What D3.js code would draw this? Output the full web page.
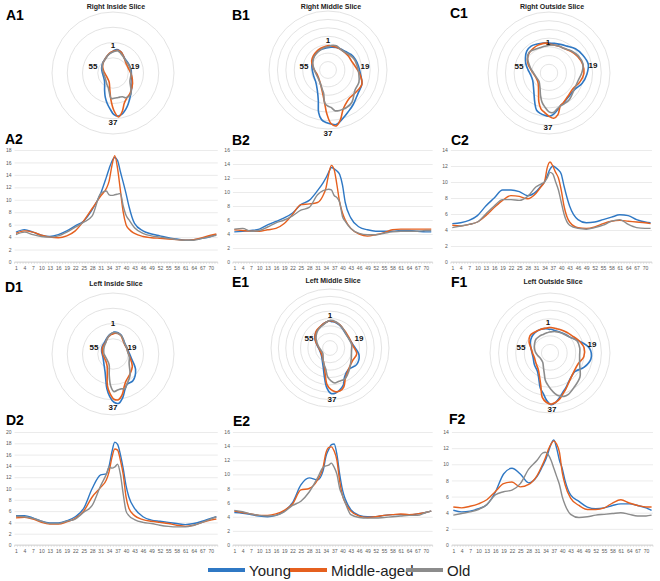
<!DOCTYPE html>
<html>
<head>
<meta charset="utf-8">
<script src="https://cdn.jsdelivr.net/npm/d3@7"></script>
<style>
  body { margin: 0; background: #fff; }
  svg { display: block; font-family: "Liberation Sans", Arial, sans-serif; }
</style>
</head>
<body>
<div id="figure"></div>
<script>
/*
 * Slice profiles: radar view (x1) and profile view (x2) for three age groups
 */

// Sample positions along the slice (1..72, one every 5 degrees)
const sampleIdx = [1, 4, 7, 10, 13, 16, 19, 22, 25, 28, 31, 33, 34, 35, 36, 37, 38, 39, 40, 41, 43, 46, 49, 52, 55, 58, 61, 64, 67, 70, 72];
const xTickLabels = [1, 4, 7, 10, 13, 16, 19, 22, 25, 28, 31, 34, 37, 40, 43, 46, 49, 52, 55, 58, 61, 64, 67, 70];
const radarLabels = [1, 19, 37, 55];
const groups = ["Young", "Middle-aged", "Old"];

// Right inside slice
const youngA  = [4.8, 5.2, 4.8, 4.3, 4.1, 4.4, 5.0, 5.8, 6.6, 8.4, 11.0, 13.6, 15.0, 16.2, 16.8, 16.3, 14.5, 12.8, 11.0, 9.0, 6.2, 5.0, 4.5, 4.2, 3.9, 3.7, 3.5, 3.6, 3.8, 4.1, 4.4];
const middleA = [4.6, 5.0, 4.8, 4.3, 4.0, 3.9, 4.2, 5.0, 6.6, 8.6, 10.6, 11.8, 13.0, 15.5, 17.1, 15.0, 11.5, 8.0, 6.0, 5.3, 4.6, 4.1, 3.9, 3.8, 3.7, 3.6, 3.5, 3.6, 3.9, 4.3, 4.5];
const oldA    = [4.4, 4.8, 4.4, 4.1, 4.0, 4.2, 4.8, 5.6, 6.4, 7.4, 11.0, 11.4, 10.8, 10.7, 10.8, 10.9, 11.0, 9.0, 7.5, 6.8, 5.5, 4.6, 4.2, 4.0, 3.8, 3.6, 3.5, 3.5, 3.8, 4.1, 4.3];
// Right middle slice
const youngB  = [4.3, 4.4, 4.5, 4.7, 5.3, 5.8, 6.3, 7.0, 8.2, 8.8, 10.2, 11.3, 12.0, 12.8, 13.5, 13.3, 13.0, 12.5, 11.0, 8.5, 6.3, 5.0, 4.6, 4.4, 4.4, 4.4, 4.5, 4.5, 4.4, 4.3, 4.3];
const middleB = [4.6, 4.5, 4.4, 4.4, 4.6, 4.8, 5.5, 6.8, 8.2, 8.3, 8.5, 9.5, 10.5, 12.5, 13.8, 13.2, 11.0, 8.5, 7.0, 6.0, 4.8, 4.0, 3.7, 3.9, 4.2, 4.6, 4.7, 4.7, 4.7, 4.7, 4.7];
const oldB    = [4.7, 4.8, 4.4, 4.5, 5.0, 5.6, 6.0, 6.6, 7.4, 7.8, 9.6, 10.2, 10.3, 10.4, 10.3, 9.5, 9.2, 8.5, 6.5, 5.8, 4.8, 4.1, 3.9, 3.9, 4.1, 4.3, 4.4, 4.4, 4.4, 4.5, 4.5];
// Right outside slice
const youngC  = [4.8, 4.9, 5.2, 5.8, 7.0, 8.0, 9.0, 9.0, 8.8, 8.3, 8.8, 9.6, 10.0, 10.8, 11.6, 12.0, 11.8, 11.5, 11.0, 9.5, 7.0, 5.3, 4.9, 5.0, 5.3, 5.6, 5.9, 5.8, 5.3, 5.0, 4.9];
const middleC = [4.6, 4.5, 4.7, 5.0, 5.8, 6.8, 7.7, 8.3, 8.2, 7.9, 8.6, 9.5, 10.0, 11.8, 12.5, 12.0, 11.2, 10.5, 9.0, 7.0, 5.0, 4.3, 4.2, 4.4, 4.8, 5.1, 5.2, 5.1, 5.0, 4.9, 4.8];
const oldC    = [4.3, 4.5, 4.7, 5.0, 6.0, 7.0, 7.8, 7.8, 7.7, 8.2, 9.4, 9.8, 10.0, 10.5, 11.2, 11.0, 10.0, 9.0, 7.5, 6.0, 4.6, 4.2, 4.1, 4.3, 4.6, 5.1, 5.3, 4.7, 4.3, 4.2, 4.2];
// Left inside slice
const youngD  = [5.2, 5.2, 4.8, 4.2, 3.9, 3.9, 4.3, 5.0, 6.5, 10.0, 12.4, 12.6, 14.0, 16.5, 18.2, 17.8, 16.0, 13.5, 10.5, 8.5, 6.5, 5.0, 4.4, 4.2, 4.0, 3.8, 3.6, 3.8, 4.2, 4.7, 5.0];
const middleD = [4.8, 4.9, 4.6, 4.0, 3.7, 3.7, 4.1, 4.7, 6.0, 8.5, 10.2, 11.5, 13.0, 15.5, 17.0, 16.8, 15.0, 12.5, 8.5, 6.5, 5.2, 4.5, 4.2, 4.0, 3.8, 3.5, 3.3, 3.5, 4.0, 4.4, 4.6];
const oldD    = [5.1, 5.0, 4.7, 4.2, 3.8, 3.8, 4.2, 4.6, 5.8, 7.0, 10.5, 12.5, 13.8, 13.6, 13.8, 14.3, 12.5, 9.0, 6.0, 5.2, 4.5, 4.0, 3.8, 3.5, 3.3, 3.2, 3.2, 3.5, 4.0, 4.6, 5.0];
// Left middle slice
const youngE  = [4.6, 4.5, 4.3, 4.1, 4.0, 4.2, 4.8, 6.0, 8.5, 9.5, 9.2, 10.5, 12.5, 13.5, 14.2, 14.3, 12.8, 10.0, 7.8, 6.5, 5.0, 4.2, 4.0, 4.0, 4.2, 4.3, 4.3, 4.2, 4.4, 4.6, 4.8];
const middleE = [4.8, 4.6, 4.4, 4.2, 4.2, 4.4, 4.9, 5.8, 7.8, 8.0, 9.2, 11.0, 13.0, 13.8, 13.9, 13.3, 12.0, 9.0, 7.0, 6.0, 4.8, 4.1, 3.9, 4.0, 4.2, 4.3, 4.4, 4.3, 4.4, 4.6, 4.8];
const oldE    = [4.9, 4.7, 4.4, 4.2, 4.1, 4.2, 4.7, 5.6, 6.2, 7.5, 9.5, 11.0, 11.2, 11.3, 11.6, 11.0, 10.0, 8.0, 7.0, 6.0, 4.3, 3.9, 3.8, 3.8, 3.9, 4.0, 4.1, 4.2, 4.2, 4.6, 4.8];
// Left outside slice
const youngF  = [4.3, 4.1, 4.2, 4.5, 5.0, 6.5, 8.8, 9.5, 8.8, 7.7, 8.5, 9.8, 10.5, 11.5, 12.5, 13.0, 12.0, 10.5, 9.5, 8.0, 6.2, 5.4, 4.7, 4.5, 4.6, 4.9, 5.1, 5.1, 4.9, 4.6, 4.3];
const middleF = [4.7, 4.6, 4.8, 5.1, 5.6, 6.6, 7.6, 7.8, 7.2, 7.5, 8.6, 10.0, 10.8, 11.8, 12.5, 12.9, 12.5, 11.5, 9.0, 7.5, 5.8, 4.9, 4.4, 4.4, 4.6, 5.2, 5.6, 5.2, 4.9, 4.7, 4.7];
const oldF    = [3.7, 3.9, 4.1, 4.4, 5.0, 6.2, 6.6, 6.8, 7.6, 9.4, 10.5, 11.4, 11.5, 11.2, 10.5, 9.5, 8.5, 7.5, 6.0, 5.0, 3.8, 3.4, 3.5, 3.7, 3.8, 3.9, 4.0, 3.8, 3.6, 3.6, 3.7];

// Colors
const groupColor = d3.scaleOrdinal()
    .domain(groups)
    .range(["#2f78c4", "#e5601f", "#8c8c8c"]);

// Layout of the six panels (ring = centre of the background circles)
const panels = [
    { key: "A", title: "Right Inside Slice", series: [youngA, middleA, oldA],
      polar: { cx: 114, cy: 65, ringX: 113, ringY: 73, ringR: 61, max: 20, step: 5, titleY: 9, tag: [6, 20] },
      tags: { 1: [-1, -20], 19: [21, 1], 37: [-1, 57], 55: [-21, 1] },
      line: { x1: 16, x70: 210.7, top: 150, bottom: 262, max: 18, tag: [5, 144] } },
    { key: "B", title: "Right Middle Slice", series: [youngB, middleB, oldB],
      polar: { cx: 331, cy: 66, ringX: 328, ringY: 70, ringR: 59, max: 14, step: 2, titleY: 9, tag: [232, 20] },
      tags: { 1: [-3, -26], 19: [34, 0], 37: [-3, 67], 55: [-27, 0] },
      line: { x1: 234.3, x70: 425.7, top: 150, bottom: 262, max: 16, tag: [232, 145] } },
    { key: "C", title: "Right Outside Slice", series: [youngC, middleC, oldC],
      polar: { cx: 549, cy: 64, ringX: 549, ringY: 73, ringR: 61, max: 14, step: 2, titleY: 9, tag: [450, 18] },
      tags: { 1: [-1, -22], 19: [44, 1], 37: [-1, 63], 55: [-30, 2] },
      line: { x1: 452.3, x70: 645, top: 150, bottom: 262, max: 14, tag: [451, 145] } },
    { key: "D", title: "Left Inside Slice", series: [youngD, middleD, oldD],
      polar: { cx: 114, cy: 348, ringX: 113, ringY: 354, ringR: 61, max: 20, step: 5, titleY: 286, tag: [5, 292] },
      tags: { 1: [-1, -25], 19: [18, -1], 37: [-1, 59], 55: [-20, -1] },
      line: { x1: 16, x70: 210.7, top: 432, bottom: 545, max: 20, tag: [6, 425] } },
    { key: "E", title: "Left Middle Slice", series: [youngE, middleE, oldE],
      polar: { cx: 331, cy: 339, ringX: 330, ringY: 348, ringR: 59, max: 16, step: 2, titleY: 283, tag: [232, 287] },
      tags: { 1: [-1, -24], 19: [28, -1], 37: [1, 60], 55: [-22, -1] },
      line: { x1: 234.3, x70: 425.7, top: 432, bottom: 545, max: 16, tag: [233, 426] } },
    { key: "F", title: "Left Outside Slice", series: [youngF, middleF, oldF],
      polar: { cx: 551, cy: 348, ringX: 550, ringY: 353, ringR: 60, max: 14, step: 2, titleY: 284, tag: [451, 287] },
      tags: { 1: [-3, -26], 19: [41, -4], 37: [1, 61], 55: [-30, -1] },
      line: { x1: 453.3, x70: 646, top: 432, bottom: 545, max: 14, tag: [449, 424] } }
];

var width = 660, height = 581;
var polarRadius = 61;

var svg = d3.select("#figure").append("svg")
    .attr("width", width)
    .attr("height", height);

function toPoints(values) {
    return sampleIdx.map(function (idx, i) { return [idx, values[i]]; });
}

function drawPolar(p) {
    var cfg = p.polar;
    var g = svg.append("g").attr("class", "polar");

    var r = d3.scaleLinear().domain([0, cfg.max]).range([0, polarRadius]);
    var ringScale = d3.scaleLinear().domain([0, cfg.max]).range([0, cfg.ringR]);

    // Background rings
    g.selectAll("circle.ring")
        .data(d3.range(cfg.step, cfg.max + cfg.step / 2, cfg.step))
        .enter().append("circle")
        .attr("class", "ring")
        .attr("cx", cfg.ringX)
        .attr("cy", cfg.ringY)
        .attr("r", function (d) { return ringScale(d); })
        .style("fill", "none")
        .style("stroke", "#dcdcdc")
        .style("stroke-width", 0.8);

    var radial = d3.lineRadial()
        .angle(function (d) { return (d[0] - 1) / 72 * 2 * Math.PI; })
        .radius(function (d) { return r(d[1]); })
        .curve(d3.curveCatmullRomClosed.alpha(0.5));

    g.append("g")
        .attr("transform", "translate(" + cfg.cx + "," + cfg.cy + ")")
        .selectAll("path")
        .data(p.series)
        .enter().append("path")
        .attr("d", function (d) { return radial(toPoints(d)); })
        .style("fill", "none")
        .style("stroke", function (d, i) { return groupColor(groups[i]); })
        .style("stroke-width", 1.6)
        .style("stroke-linejoin", "round");

    // Direction labels
    g.selectAll("text.dir")
        .data(radarLabels)
        .enter().append("text")
        .attr("class", "dir")
        .attr("x", function (d) { return cfg.cx + p.tags[d][0]; })
        .attr("y", function (d) { return cfg.cy + p.tags[d][1]; })
        .attr("dy", "0.35em")
        .attr("text-anchor", "middle")
        .style("font-size", "8px")
        .style("font-weight", "bold")
        .style("fill", "#111")
        .text(function (d) { return d; });

    // Title and panel tag
    svg.append("text")
        .attr("x", cfg.ringX + 3)
        .attr("y", cfg.titleY)
        .attr("text-anchor", "middle")
        .style("font-size", "7px")
        .style("font-weight", "bold")
        .style("fill", "#222")
        .text(p.title);

    svg.append("text")
        .attr("x", cfg.tag[0])
        .attr("y", cfg.tag[1])
        .style("font-size", "14px")
        .style("font-weight", "bold")
        .text(p.key + "1");
}

function drawProfile(p) {
    var cfg = p.line;
    var g = svg.append("g").attr("class", "profile");

    var x = d3.scaleLinear().domain([1, 70]).range([cfg.x1, cfg.x70]);
    var y = d3.scaleLinear().domain([0, cfg.max]).range([cfg.bottom, cfg.top]);
    var left = x(0.5), right = x(72.5);

    // Gridlines + y labels
    var yAxis = d3.axisLeft(y)
        .tickValues(d3.range(0, cfg.max + 1, 2))
        .tickSize(-(right - left))
        .tickPadding(3);

    var ya = g.append("g")
        .attr("transform", "translate(" + left + ",0)")
        .call(yAxis);
    ya.select(".domain").remove();
    ya.selectAll("line").style("stroke", "#e3e3e3").style("stroke-width", 0.7);
    ya.selectAll("text").style("font-size", "5px").style("fill", "#595959");

    // x axis
    var xAxis = d3.axisBottom(x)
        .tickValues(xTickLabels)
        .tickSize(0)
        .tickPadding(4);

    var xa = g.append("g")
        .attr("transform", "translate(0," + cfg.bottom + ")")
        .call(xAxis);
    xa.select(".domain").remove();
    xa.selectAll("text").style("font-size", "5px").style("fill", "#595959");

    g.append("line")
        .attr("x1", left).attr("x2", right)
        .attr("y1", cfg.bottom).attr("y2", cfg.bottom)
        .style("stroke", "#cfcfcf")
        .style("stroke-width", 0.8);

    g.selectAll("line.cat")
        .data(d3.range(0.5, 73, 1))
        .enter().append("line")
        .attr("class", "cat")
        .attr("x1", function (d) { return x(d); })
        .attr("x2", function (d) { return x(d); })
        .attr("y1", cfg.bottom)
        .attr("y2", cfg.bottom + 2)
        .style("stroke", "#cfcfcf")
        .style("stroke-width", 0.5);

    var line = d3.line()
        .x(function (d) { return x(d[0]); })
        .y(function (d) { return y(d[1]); })
        .curve(d3.curveMonotoneX);

    g.selectAll("path.series")
        .data(p.series)
        .enter().append("path")
        .attr("class", "series")
        .attr("d", function (d) { return line(toPoints(d)); })
        .style("fill", "none")
        .style("stroke", function (d, i) { return groupColor(groups[i]); })
        .style("stroke-width", 1.4)
        .style("stroke-linejoin", "round");

    svg.append("text")
        .attr("x", cfg.tag[0])
        .attr("y", cfg.tag[1])
        .style("font-size", "14px")
        .style("font-weight", "bold")
        .text(p.key + "2");
}

panels.forEach(function (p) {
    drawProfile(p);
    drawPolar(p);
});

// Legend
var legendX = [208, 290, 406];
var legend = svg.append("g").attr("class", "legend");
groups.forEach(function (name, i) {
    legend.append("line")
        .attr("x1", legendX[i]).attr("x2", legendX[i] + 37)
        .attr("y1", 570).attr("y2", 570)
        .style("stroke", groupColor(name))
        .style("stroke-width", 4);
    legend.append("text")
        .attr("x", legendX[i] + 41)
        .attr("y", 576)
        .style("font-size", "15px")
        .style("fill", "#222")
        .text(name);
});
</script>
</body>
</html>
